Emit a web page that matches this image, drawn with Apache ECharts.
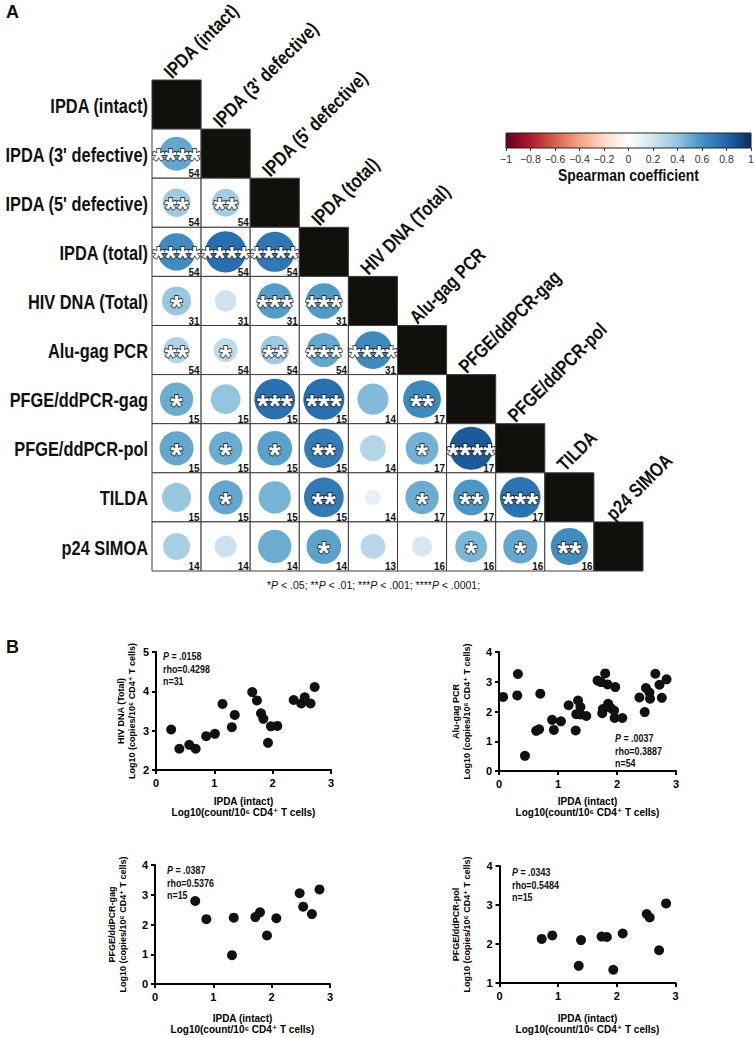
<!DOCTYPE html>
<html><head><meta charset="utf-8">
<script src="https://cdn.jsdelivr.net/npm/echarts@6/dist/echarts.min.js"></script>
<style>html,body{margin:0;padding:0;background:#fff}#c{width:755px;height:1038px}</style>
</head><body><div id="c"></div>
<script>
// ---------------- DATA ----------------
const measures = ['IPDA (intact)', "IPDA (3' defective)", "IPDA (5' defective)", 'IPDA (total)', 'HIV DNA (Total)', 'Alu-gag PCR', 'PFGE/ddPCR-gag', 'PFGE/ddPCR-pol', 'TILDA', 'p24 SIMOA'];
// Spearman rho, lower triangle (row i, columns 0..i-1)
const rhoRows = [
  [],
  [0.52],
  [0.36, 0.35],
  [0.63, 0.76, 0.72],
  [0.38, 0.21, 0.56, 0.57],
  [0.31, 0.26, 0.37, 0.52, 0.64],
  [0.50, 0.40, 0.75, 0.76, 0.44, 0.64],
  [0.52, 0.50, 0.54, 0.70, 0.30, 0.48, 0.84],
  [0.38, 0.52, 0.47, 0.71, 0.11, 0.50, 0.58, 0.74],
  [0.33, 0.22, 0.50, 0.54, 0.28, 0.18, 0.46, 0.52, 0.62]
];
const starRows = [
  [],
  ['****'],
  ['**', '**'],
  ['****', '****', '****'],
  ['*', '', '***', '***'],
  ['**', '*', '**', '***', '****'],
  ['*', '', '***', '***', '', '**'],
  ['*', '*', '*', '**', '', '*', '****'],
  ['', '*', '', '**', '', '*', '**', '***'],
  ['', '', '', '*', '', '', '*', '*', '**']
];
const nRows = [
  [],
  [54],
  [54, 54],
  [54, 54, 54],
  [31, 31, 31, 31],
  [54, 54, 54, 54, 31],
  [15, 15, 15, 15, 14, 17],
  [15, 15, 15, 15, 14, 17, 17],
  [15, 15, 15, 15, 14, 17, 17, 17],
  [14, 14, 14, 14, 13, 16, 16, 16, 16]
];
const colorbarTitle = 'Spearman coefficient';
const footnote = '*{i|P} < .05; **{i|P} < .01; ***{i|P} < .001; ****{i|P} < .0001;';

const xName = 'IPDA (intact)\nLog10(count/10\u2076 CD4\u207A T cells)';
const yUnit = 'Log10 (copies/10\u2076 CD4\u207A T cells)';

const hivDnaPts = [[0.26,3.03],[0.40,2.54],[0.57,2.64],[0.68,2.54],[0.86,2.86],[1.01,2.92],[1.14,3.68],[1.30,3.09],[1.35,3.40],[1.65,3.98],[1.73,3.77],[1.80,3.44],[1.84,3.30],[1.92,2.69],[1.97,3.11],[2.08,3.12],[2.36,3.78],[2.49,3.69],[2.55,3.85],[2.65,3.69],[2.72,4.11]];
const aluGagPts = [[0.07,2.49],[0.32,3.26],[0.31,2.54],[0.44,0.51],[0.70,2.60],[0.63,1.35],[0.68,1.40],[0.90,1.72],[0.93,1.38],[1.05,1.67],[1.18,2.21],[1.34,2.37],[1.38,2.15],[1.31,1.91],[1.30,1.36],[1.38,1.90],[1.48,1.85],[1.67,3.04],[1.73,2.99],[1.80,3.28],[1.84,2.91],[1.75,1.94],[1.76,2.08],[1.85,2.26],[1.89,2.12],[1.95,2.03],[1.97,2.82],[1.96,1.78],[2.09,1.78],[2.38,2.47],[2.47,1.98],[2.49,2.79],[2.55,2.64],[2.56,2.43],[2.65,3.27],[2.72,2.90],[2.76,2.46],[2.84,3.08]];
const pfgeGagPts = [[0.69,2.79],[0.88,2.18],[1.35,2.23],[1.32,0.97],[1.72,2.25],[1.80,2.41],[1.92,1.63],[2.08,2.21],[2.48,3.05],[2.54,2.60],[2.69,2.35],[2.82,3.18]];
const pfgePolPts = [[0.72,2.13],[0.90,2.22],[1.39,2.10],[1.35,1.44],[1.74,2.19],[1.83,2.18],[1.94,1.34],[2.10,2.27],[2.51,2.77],[2.56,2.68],[2.72,1.84],[2.84,3.04]];

const statsText = [
  '{i|P} = .0158\nrho=0.4298\nn=31',
  '{i|P} = .0037\nrho=0.3887\nn=54',
  '{i|P} = .0387\nrho=0.5376\nn=15',
  '{i|P} = .0343\nrho=0.5484\nn=15'
];

// ---------------- STYLE ----------------
const RDBU = ['#67001F','#B2182B','#D6604D','#F4A582','#FDDBC7','#FFFFFF','#D1E5F0','#92C5DE','#4393C3','#2166AC','#053061'];
const SANS = '"Liberation Sans", Arial, "DejaVu Sans", sans-serif';
const NARROW_SCALE = 0.82;
const N = measures.length;
const CELL = 49.1;

// build matrix data
const cellData = [], circleData = [], nData = [];
for (let i = 0; i < N; i++) {
  for (let j = 0; j <= i; j++) {
    cellData.push([j, i, i === j ? 1 : 0]);
    if (j < i) {
      circleData.push({ value: [j, i, rhoRows[i][j]], stars: starRows[i][j] });
      nData.push([j, i, nRows[i][j]]);
    }
  }
}

const chart = echarts.init(document.getElementById('c'), null, { renderer: 'svg' });

function scatterAxes(gi, ymin, ymax, yLabel, yGap, xGap) {
  const axisLine = { show: true, lineStyle: { color: '#000', width: 2 } };
  const axisTick = { show: true, length: 4, lineStyle: { color: '#000', width: 2 } };
  const axisLabel = { color: '#000', fontSize: 11, fontWeight: 'bold', fontFamily: SANS };
  return {
    x: { type: 'value', gridIndex: gi, min: 0, max: 3, interval: 1, axisLine, axisTick,
         axisLabel: Object.assign({ margin: 7 }, axisLabel), splitLine: { show: false },
         name: xName, nameLocation: 'middle', nameGap: xGap,
         nameTextStyle: { color: '#000', fontSize: 10, fontWeight: 'bold', fontFamily: SANS, lineHeight: 11 } },
    y: { type: 'value', gridIndex: gi, min: ymin, max: ymax, interval: 1, axisLine, axisTick,
         axisLabel: Object.assign({ margin: 7 }, axisLabel), splitLine: { show: false },
         name: yLabel + '\n' + yUnit, nameLocation: 'middle', nameGap: yGap,
         nameTextStyle: { color: '#000', fontSize: 9, fontWeight: 'bold', fontFamily: SANS, lineHeight: 11 } }
  };
}
const ax1 = scatterAxes(2, 2, 5, 'HIV DNA (Total)', 19, 26);
const ax2 = scatterAxes(3, 0, 4, 'Alu-gag PCR', 27, 25);
const ax3 = scatterAxes(4, 0, 4, 'PFGE/ddPCR-gag', 27, 28.5);
const ax4 = scatterAxes(5, 1, 4, 'PFGE/ddPCR-pol', 27, 29.5);

const statPos = [[163, 650], [615, 732], [167, 864], [512, 866]];

const titles = [
  { text: 'A', left: 6, top: 3, padding: 0, textStyle: { fontSize: 18, fontWeight: 'bold', fontFamily: SANS, color: '#111' } },
  { text: 'B', left: 6, top: 638, padding: 0, textStyle: { fontSize: 18, fontWeight: 'bold', fontFamily: SANS, color: '#111' } },
  { text: footnote, left: 267, top: 579, padding: 0,
    textStyle: { fontSize: 10.5, fontWeight: 'normal', fontFamily: SANS, color: '#111',
      rich: { i: { fontStyle: 'italic', fontSize: 10.5, fontFamily: SANS, color: '#111' } } } }
];

const graphics = statsText.map((t, k) => ({
  type: 'text', x: statPos[k][0], y: statPos[k][1], scaleX: 0.85, silent: true,
  style: { text: t, fill: '#111', fontSize: 10.5, fontWeight: 'bold', fontFamily: SANS, lineHeight: 12.5,
    rich: { i: { fontStyle: 'italic', fontWeight: 'bold', fontSize: 10.5, fontFamily: SANS, fill: '#111', lineHeight: 12.5 } } }
}));

const option = {
  animation: false,
  backgroundColor: '#fff',
  title: titles,
  graphic: graphics,
  grid: [
    { left: 152, top: 80, width: CELL * N, height: CELL * N, outerBoundsMode: 'none' },
    { left: 506, top: 133, width: 245, height: 15, outerBoundsMode: 'none' },
    { left: 156, top: 652, width: 175, height: 118, outerBoundsMode: 'none' },
    { left: 499, top: 652, width: 177, height: 119, outerBoundsMode: 'none' },
    { left: 155, top: 865, width: 175, height: 119, outerBoundsMode: 'none' },
    { left: 499.5, top: 866, width: 176, height: 117, outerBoundsMode: 'none' }
  ],
  xAxis: [
    { type: 'category', gridIndex: 0, data: measures, axisLine: { show: false }, axisTick: { show: false }, axisLabel: { show: false }, splitLine: { show: false } },
    { type: 'value', gridIndex: 1, min: -1, max: 1, interval: 0.2, axisLine: { show: false },
      axisTick: { show: true, length: 3, lineStyle: { color: '#333' } },
      axisLabel: { color: '#333', fontSize: 10.5, fontFamily: SANS, margin: 5,
        formatter: v => { const r = Math.round(v * 10) / 10; return r < 0 ? '\u2212' + String(-r) : String(r); } },
      splitLine: { show: false } },
    ax1.x, ax2.x, ax3.x, ax4.x
  ],
  yAxis: [
    { type: 'category', gridIndex: 0, data: measures, inverse: true, axisLine: { show: false }, axisTick: { show: false },
      axisLabel: { show: false }, splitLine: { show: false } },
    { type: 'value', gridIndex: 1, min: 0, max: 1, show: false },
    ax1.y, ax2.y, ax3.y, ax4.y
  ],
  visualMap: [{ type: 'continuous', show: false, min: -1, max: 1, dimension: 2, seriesIndex: 1, inRange: { color: RDBU } }],
  series: [
    { type: 'custom', xAxisIndex: 0, yAxisIndex: 0, silent: true, clip: false, z: 1, data: cellData,
      renderItem: (params, api) => {
        const c = api.coord([api.value(0), api.value(1)]);
        const s = api.size([1, 1]);
        const diag = api.value(2) === 1;
        return { type: 'rect', shape: { x: c[0] - s[0] / 2, y: c[1] - s[1] / 2, width: s[0], height: s[1] },
          style: { fill: diag ? '#12100d' : '#fff', stroke: '#3c3c3c', lineWidth: 1 } };
      } },
    { type: 'scatter', xAxisIndex: 0, yAxisIndex: 0, silent: true, z: 2, data: circleData,
      symbol: 'circle', symbolSize: v => CELL * 0.96 * Math.sqrt(Math.abs(v[2])),
      itemStyle: { opacity: 1 },
      label: { show: true, position: 'inside', formatter: p => p.data.stars, fontSize: 31, fontWeight: 'bold', fontFamily: SANS,
        lineHeight: 12, color: '#fff', textBorderColor: '#111', textBorderWidth: 1.4, offset: [0, 7] } },
    { type: 'custom', xAxisIndex: 0, yAxisIndex: 0, silent: true, clip: false, z: 3, data: nData,
      renderItem: (params, api) => {
        const c = api.coord([api.value(0), api.value(1)]);
        const s = api.size([1, 1]);
        return { type: 'text', x: c[0] + s[0] / 2 - 1.5, y: c[1] + s[1] / 2 + 1, scaleX: 0.9,
          style: { text: String(api.value(2)), fill: '#111', fontSize: 11, fontWeight: 'bold', fontFamily: SANS, align: 'right', verticalAlign: 'bottom' } };
      } },
    // column labels (rotated 45deg, above each diagonal cell)
    { type: 'custom', xAxisIndex: 0, yAxisIndex: 0, silent: true, clip: false, z: 3, data: measures.map((m, j) => [j, j]),
      renderItem: (params, api) => {
        const c = api.coord([api.value(0), api.value(1)]);
        const s = api.size([1, 1]);
        return { type: 'group', x: c[0] - 2, y: c[1] - s[1] / 2 + 2, rotation: Math.PI / 4,
          children: [{ type: 'text', x: 0, y: 0, scaleX: NARROW_SCALE,
            style: { text: measures[params.dataIndex], fill: '#111', fontSize: 19.5, fontWeight: 'bold', fontFamily: SANS, align: 'left', verticalAlign: 'bottom' } }] };
      } },
    // row labels (left)
    { type: 'custom', xAxisIndex: 0, yAxisIndex: 0, silent: true, clip: false, z: 3, data: measures.map((m, i) => [0, i]),
      renderItem: (params, api) => {
        const c = api.coord([api.value(0), api.value(1)]);
        const s = api.size([1, 1]);
        return { type: 'text', x: c[0] - s[0] / 2 - 4, y: c[1] + 1, scaleX: NARROW_SCALE,
          style: { text: measures[params.dataIndex], fill: '#111', fontSize: 20, fontWeight: 'bold', fontFamily: SANS, align: 'right', verticalAlign: 'middle' } };
      } },
    // colour bar + its title
    { type: 'custom', xAxisIndex: 1, yAxisIndex: 1, silent: true, clip: false, z: 2, data: [[-1, 0, 1, 1]],
      renderItem: (params, api) => {
        const p0 = api.coord([api.value(0), api.value(3)]);
        const p1 = api.coord([api.value(2), api.value(1)]);
        const stops = RDBU.map((c, k) => ({ offset: k / (RDBU.length - 1), color: c }));
        return { type: 'group', children: [
          { type: 'rect', shape: { x: p0[0], y: p0[1], width: p1[0] - p0[0], height: p1[1] - p0[1] },
            style: { fill: new echarts.graphic.LinearGradient(0, 0, 1, 0, stops), stroke: '#222', lineWidth: 1 } },
          { type: 'text', x: (p0[0] + p1[0]) / 2, y: p1[1] + 27, scaleX: NARROW_SCALE,
            style: { text: colorbarTitle, fill: '#111', fontSize: 17, fontWeight: 'bold', fontFamily: SANS, align: 'center', verticalAlign: 'middle' } }
        ] };
      } },
    { type: 'scatter', xAxisIndex: 2, yAxisIndex: 2, data: hivDnaPts, symbolSize: 10, itemStyle: { color: '#111', opacity: 1 }, silent: true },
    { type: 'scatter', xAxisIndex: 3, yAxisIndex: 3, data: aluGagPts, symbolSize: 10, itemStyle: { color: '#111', opacity: 1 }, silent: true },
    { type: 'scatter', xAxisIndex: 4, yAxisIndex: 4, data: pfgeGagPts, symbolSize: 10, itemStyle: { color: '#111', opacity: 1 }, silent: true },
    { type: 'scatter', xAxisIndex: 5, yAxisIndex: 5, data: pfgePolPts, symbolSize: 10, itemStyle: { color: '#111', opacity: 1 }, silent: true }
  ]
};
chart.setOption(option);
</script></body></html>
